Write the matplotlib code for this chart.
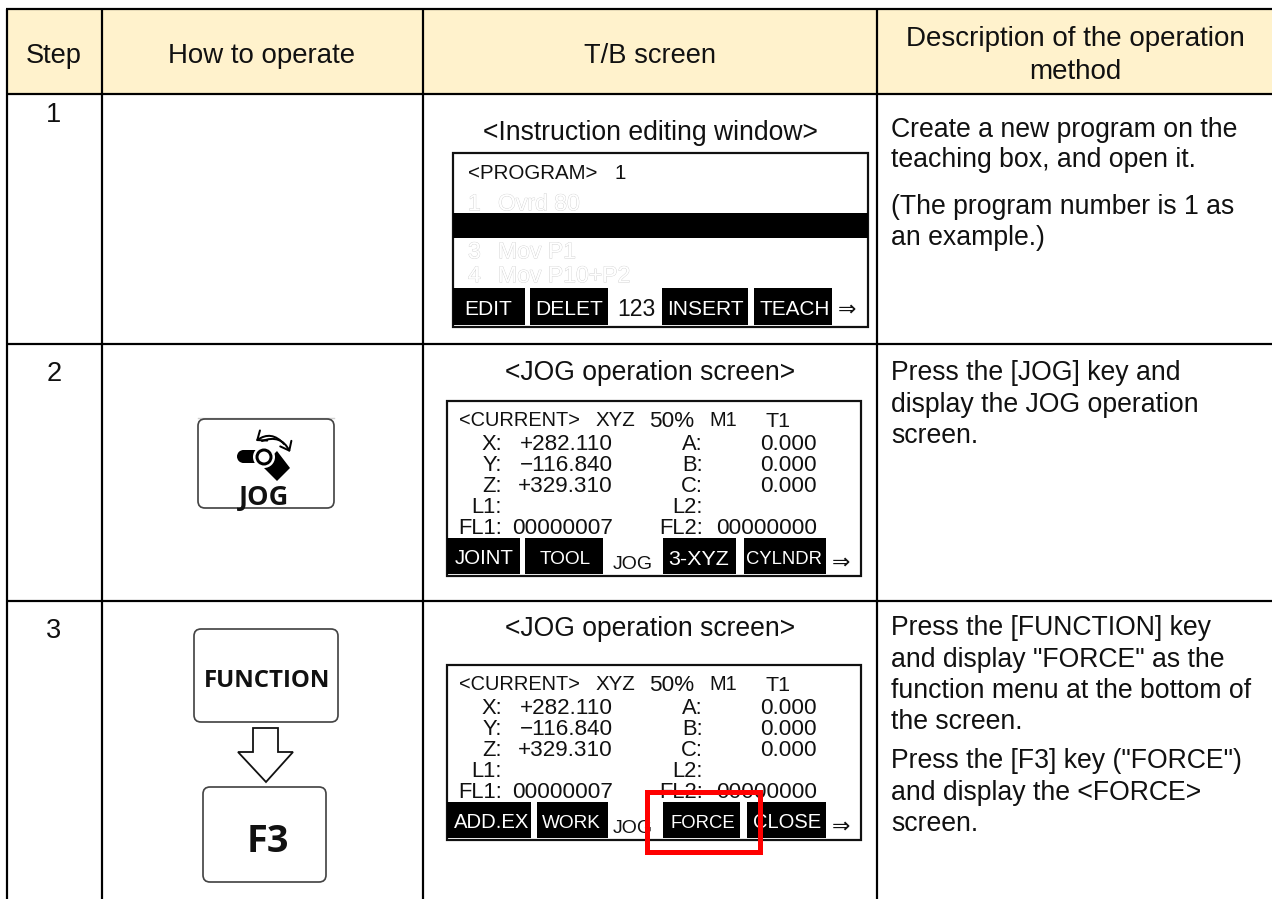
import matplotlib
matplotlib.use("Agg")
import matplotlib.pyplot as plt
from matplotlib.patches import Rectangle, FancyBboxPatch, Polygon, Circle, FancyArrowPatch
import matplotlib.patheffects as pe

plt.rcParams['font.family'] = ['Liberation Sans', 'DejaVu Sans']

W, H = 1272, 899
# ---- content ----
headers = ["Step", "How to operate", "T/B screen", "Description of the operation\nmethod"]
steps = ["1", "2", "3"]
screen_titles = ["<Instruction editing window>", "<JOG operation screen>", "<JOG operation screen>"]
desc_row1 = ["Create a new program on the", "teaching box, and open it.", "(The program number is 1 as", "an example.)"]
desc_row2 = ["Press the [JOG] key and", "display the JOG operation", "screen."]
desc_row3 = ["Press the [FUNCTION] key", "and display \"FORCE\" as the", "function menu at the bottom of", "the screen.",
             "Press the [F3] key (\"FORCE\")", "and display the <FORCE>", "screen."]
program_lines = [("1", "Ovrd 80"), ("3", "Mov P1"), ("4", "Mov P10+P2")]
keys_screen1 = ["EDIT", "DELET", "INSERT", "TEACH"]
keys_screen2 = ["JOINT", "TOOL", "3-XYZ", "CYLNDR"]
keys_screen3 = ["ADD.EX", "WORK", "FORCE", "CLOSE"]
status = ["<CURRENT>", "XYZ", "50%", "M1", "T1"]
left_labels = ["X:", "Y:", "Z:", "L1:", "FL1:"]
left_values = ["+282.110", "\u2212116.840", "+329.310", "", "00000007"]
right_labels = ["A:", "B:", "C:", "L2:", "FL2:"]
right_values = ["0.000", "0.000", "0.000", "", "00000000"]

# ---- layout ----
col_x = [7, 102, 423, 877]
row_y = [9, 94, 344, 601]
HEADER_BG = "#FFF2CC"
TXT = 27.2

fig = plt.figure(figsize=(W / 100, H / 100), dpi=100)
ax = fig.add_axes([0, 0, 1, 1])
ax.set_xlim(0, W)
ax.set_ylim(H, 0)
ax.axis("off")


def T(x, y, s, px=TXT, ha="left", color="#111111", weight="normal", family=None, z=5, **kw):
    """y is the vertical centre of the capitals; px is the em size in pixels."""
    return ax.text(x, y + 0.36 * px, s, fontsize=px * 0.72, ha=ha, va="baseline", color=color,
                   fontweight=weight, family=family or ['Liberation Sans', 'DejaVu Sans'], zorder=z, **kw)


def line(x0, y0, x1, y1, lw=2.2, color="black", z=3):
    ax.plot([x0, x1], [y0, y1], color=color, lw=lw * 0.72, solid_capstyle="butt", zorder=z)


# table
ax.add_patch(Rectangle((col_x[0], row_y[0]), W - col_x[0], row_y[1] - row_y[0], fc=HEADER_BG, ec="none", zorder=1))
line(col_x[0] - 1, row_y[0], W, row_y[0])
for y in row_y[1:]:
    line(col_x[0] - 1, y, W, y)
for x in col_x:
    line(x, row_y[0], x, H)

# headers
T(54, 53, headers[0], ha="center")
T(262, 53, headers[1], px=27.6, ha="center")
T(650, 53, headers[2], ha="center")
hl = headers[3].split("\n")
T(1075, 36, hl[0], px=27.7, ha="center")
T(1075, 69, hl[1], px=27.7, ha="center")

# step numbers
for s, y in zip(steps, [112, 371, 628]):
    T(54, y, s, ha="center")

# descriptions
for lines_, ys in [(desc_row1, [127, 157, 204, 235]),
                   (desc_row2, [370, 402, 433]),
                   (desc_row3, [625, 657, 688, 719, 758, 790, 821])]:
    for s, y in zip(lines_, ys):
        T(891, y, s, px=26.6)

# screen titles
for s, y in zip(screen_titles, [130, 370, 626]):
    T(650.5, y, s, px=26.5, ha="center")


def screen(x0, y0, x1, y1):
    ax.add_patch(Rectangle((x0, y0), x1 - x0, y1 - y0, fc="white", ec="#111111", lw=2.2 * 0.72, zorder=3))


def softkeys(labels, spans, centers, sizes, y0, y1):
    for s, (a, b), c, px in zip(labels, spans, centers, sizes):
        ax.add_patch(Rectangle((a, y0), b - a, y1 - y0, fc="black", ec="none", zorder=4))
        T(c, (y0 + y1) / 2 + 1, s, px=px, ha="center", color="white", z=6)


# screen 1
screen(453, 153, 868, 327)
ax.add_patch(Rectangle((453, 213), 415, 25, fc="black", ec="none", zorder=4))
T(468, 172, "<PROGRAM>", px=20.5)
T(615, 172, "1", px=20.5)
outline = [pe.Stroke(linewidth=0.55, foreground="#cfcfcf"), pe.Normal()]
for (n, s), y in zip(program_lines, [202, 250, 274]):
    T(468, y, n, px=23, color="white", path_effects=outline)
    T(498, y, s, px=23, color="white", path_effects=outline)
softkeys(keys_screen1, [(453, 525), (530, 608), (662, 748), (754, 832)],
         [488.5, 569.5, 705.5, 794.5], [21, 21, 21, 20.8], 288, 325)
T(636, 308, "123", px=23, ha="center")
T(847, 308, "\u21D2", px=22, ha="center", family=["DejaVu Sans"])

# screens 2, 3
for top, labels, spans, centers, sizes in [
        (401, keys_screen2, [(447, 520), (525, 603), (663, 736), (744, 826)],
         [484, 565, 699, 784], [20.5, 19, 21.5, 18.5]),
        (665, keys_screen3, [(447, 531), (537, 608), (663, 740), (747, 826)],
         [492, 571, 703, 787], [20.3, 19, 18.5, 20.2])]:
    screen(447, top, 861, top + 175)
    for s, x, px in zip(status, [459, 596, 649, 709, 765], [20, 20.5, 22.5, 20, 21.5]):
        T(x, top + 18, s, px=px)
    for i, dy in enumerate([41, 62, 83, 104, 125]):
        y = top + dy
        T(502, y, left_labels[i], px=22, ha="right")
        T(613, y, left_values[i], px=22.5, ha="right")
        T(703, y, right_labels[i], px=22, ha="right")
        T(817, y, right_values[i], px=22.5, ha="right")
    softkeys(labels, spans, centers, sizes, top + 137, top + 173)
    T(632.5, top + 161, "JOG", px=19.5, ha="center")
    T(841, top + 160, "\u21D2", px=22, ha="center", family=["DejaVu Sans"])

# red highlight
ax.add_patch(Rectangle((647, 792), 113, 60, fc="none", ec="#FF0000", lw=5 * 0.72, zorder=8, joinstyle="miter"))

# keys
OS = ["Open Sans", "DejaVu Sans"]


def key(x0, y0, x1, y1):
    ax.add_patch(FancyBboxPatch((x0 + 7, y0 + 7), x1 - x0 - 14, y1 - y0 - 14,
                                boxstyle="round,pad=7,rounding_size=7", fc="white", ec="#444444",
                                lw=1.7 * 0.72, zorder=3))


key(198, 419, 334, 508)
ax.plot([198, 334], [417.5, 417.5], color="#d0d0d0", lw=1.0, zorder=2)
T(264, 495, "JOG", px=27, ha="center", weight="bold", family=OS, color="#111111")
ax.add_patch(Rectangle((243, 450), 20, 13, fc="black", ec="none", zorder=4))
ax.add_patch(Circle((243.5, 456.5), 6.5, fc="black", ec="none", zorder=4))
ax.add_patch(Polygon([(268, 460), (277, 451), (290, 468), (277, 481), (264, 468)], fc="black", ec="none", zorder=4))
ax.add_patch(Circle((264, 457), 11, fc="white", ec="none", zorder=5))
ax.add_patch(Circle((264, 457), 7, fc="white", ec="black", lw=3 * 0.72, zorder=6))
ax.add_patch(FancyArrowPatch((262, 441), (290, 452), connectionstyle="arc3,rad=-0.45",
                             arrowstyle="->,head_length=3.5,head_width=2.8",
                             lw=2 * 0.72, color="black", zorder=6, mutation_scale=1.6, shrinkA=0, shrinkB=0))
ax.add_patch(FancyArrowPatch((284, 444), (256, 441), connectionstyle="arc3,rad=0.45",
                             arrowstyle="->,head_length=3.5,head_width=2.8",
                             lw=2 * 0.72, color="black", zorder=6, mutation_scale=1.6, shrinkA=0, shrinkB=0))

key(194, 629, 338, 722)
T(267, 678, "FUNCTION", px=24, ha="center", weight="bold", family=OS)
key(203, 787, 326, 882)
T(268, 838, "F3", px=38, ha="center", weight="bold", family=OS)
ax.add_patch(Polygon([(253, 728), (278, 728), (278, 752), (293, 752), (266, 782), (238, 752), (253, 752)],
                     closed=True, fc="white", ec="#111111", lw=1.8 * 0.72, zorder=4))

fig.savefig("out.png", dpi=100, facecolor="white")
